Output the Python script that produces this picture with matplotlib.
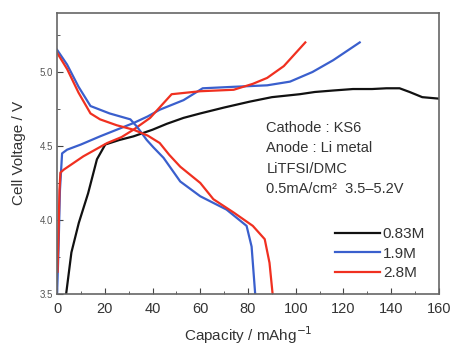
import matplotlib.pyplot as plt
from matplotlib.ticker import MultipleLocator

plt.rcParams['font.family'] = ['Liberation Sans', 'DejaVu Sans']

# charge / discharge curves, capacity (mAh/g) vs cell voltage (V)
cap_083_chg = [3.8, 6.0, 9.1, 13.0, 16.7, 20.2, 26, 32, 40, 46, 53, 60, 70, 80.8, 90, 101.7, 108, 115.7, 124, 132, 138, 143.5, 147.7, 153, 160]
v_083_chg = [3.5, 3.78, 3.98, 4.18, 4.41, 4.51, 4.54, 4.565, 4.61, 4.65, 4.69, 4.72, 4.76, 4.80, 4.83, 4.85, 4.865, 4.875, 4.885, 4.885, 4.89, 4.89, 4.865, 4.83, 4.82]

cap_19_chg = [0.0, 0.6, 1.2, 2.1, 4.2, 10, 18, 25, 32, 38, 43, 53, 61, 74, 88, 97.6, 107, 115.7, 126.8]
v_19_chg = [3.5, 3.8, 4.2, 4.45, 4.475, 4.51, 4.565, 4.61, 4.655, 4.70, 4.745, 4.81, 4.89, 4.90, 4.91, 4.935, 5.0, 5.08, 5.2]

cap_28_chg = [0.2, 0.6, 1.0, 1.4, 2.8, 11, 21, 27, 32, 39, 48, 60, 74, 82, 88, 95, 104]
v_28_chg = [3.65, 3.9, 4.2, 4.32, 4.34, 4.43, 4.52, 4.56, 4.61, 4.69, 4.85, 4.87, 4.88, 4.92, 4.96, 5.04, 5.2]

cap_19_dis = [0.0, 4.2, 9, 14, 22, 30.7, 33.5, 37.6, 40.4, 44.6, 51.6, 60, 71, 79.4, 81.5, 83]
v_19_dis = [5.15, 5.05, 4.9, 4.77, 4.72, 4.68, 4.63, 4.54, 4.49, 4.42, 4.26, 4.16, 4.07, 3.96, 3.82, 3.5]

cap_28_dis = [0.0, 4.2, 9, 14, 18, 25, 32, 38, 43, 47, 51.6, 60, 65.5, 74, 82, 87, 89, 90.3]
v_28_dis = [5.13, 5.02, 4.86, 4.72, 4.68, 4.64, 4.61, 4.57, 4.52, 4.44, 4.36, 4.25, 4.14, 4.05, 3.96, 3.87, 3.71, 3.5]

labels = ['0.83M', '1.9M', '2.8M']
colors = ['#111111', '#3a5fcd', '#f03020']

fig = plt.figure(figsize=(4.53, 3.47), dpi=100)
ax = fig.add_axes([0.126, 0.153, 0.843, 0.81])

lw = 1.6
ax.plot(cap_083_chg, v_083_chg, color=colors[0], lw=lw, label=labels[0])
ax.plot(cap_19_chg, v_19_chg, color=colors[1], lw=lw, label=labels[1])
ax.plot(cap_28_chg, v_28_chg, color=colors[2], lw=lw, label=labels[2])
ax.plot(cap_19_dis, v_19_dis, color=colors[1], lw=lw)
ax.plot(cap_28_dis, v_28_dis, color=colors[2], lw=lw)

ax.set_xlim(0, 160)
ax.set_ylim(3.5, 5.4)
ax.xaxis.set_major_locator(MultipleLocator(20))
ax.xaxis.set_minor_locator(MultipleLocator(10))
ax.yaxis.set_minor_locator(MultipleLocator(0.25))
ax.set_yticks([3.5, 4.0, 4.5, 5.0])
ax.set_yticklabels(['3.5', '4.0', '4.5', '5.0'])
ax.tick_params(which='both', direction='in', color='#444444', top=False, right=False)
ax.tick_params(which='major', length=4)
ax.tick_params(which='minor', length=2)
ax.tick_params(axis='x', labelsize=10.5, labelcolor='#333333', pad=6)
ax.tick_params(axis='y', labelsize=7, labelcolor='#555555', pad=3)
for s in ax.spines.values():
    s.set_color('#666666')
    s.set_linewidth(1.2)

ax.set_xlabel('Capacity / mAhg$^{-1}$', fontsize=11, color='#333333', labelpad=6)
ax.set_ylabel('Cell Voltage / V', fontsize=11, color='#333333', labelpad=10)

info = 'Cathode : KS6\nAnode : Li metal\nLiTFSI/DMC\n0.5mA/cm\u00b2  3.5\u20135.2V'
ax.text(0.548, 0.615, info, transform=ax.transAxes, fontsize=10.5, color='#333333',
        va='top', ha='left', linespacing=1.58)

ax.legend(loc='lower right', bbox_to_anchor=(1.0, 0.0), frameon=False, fontsize=11,
          handlelength=2.9, handletextpad=0.2, labelspacing=0.35, labelcolor='#333333')

fig.savefig('out.png', dpi=100)
